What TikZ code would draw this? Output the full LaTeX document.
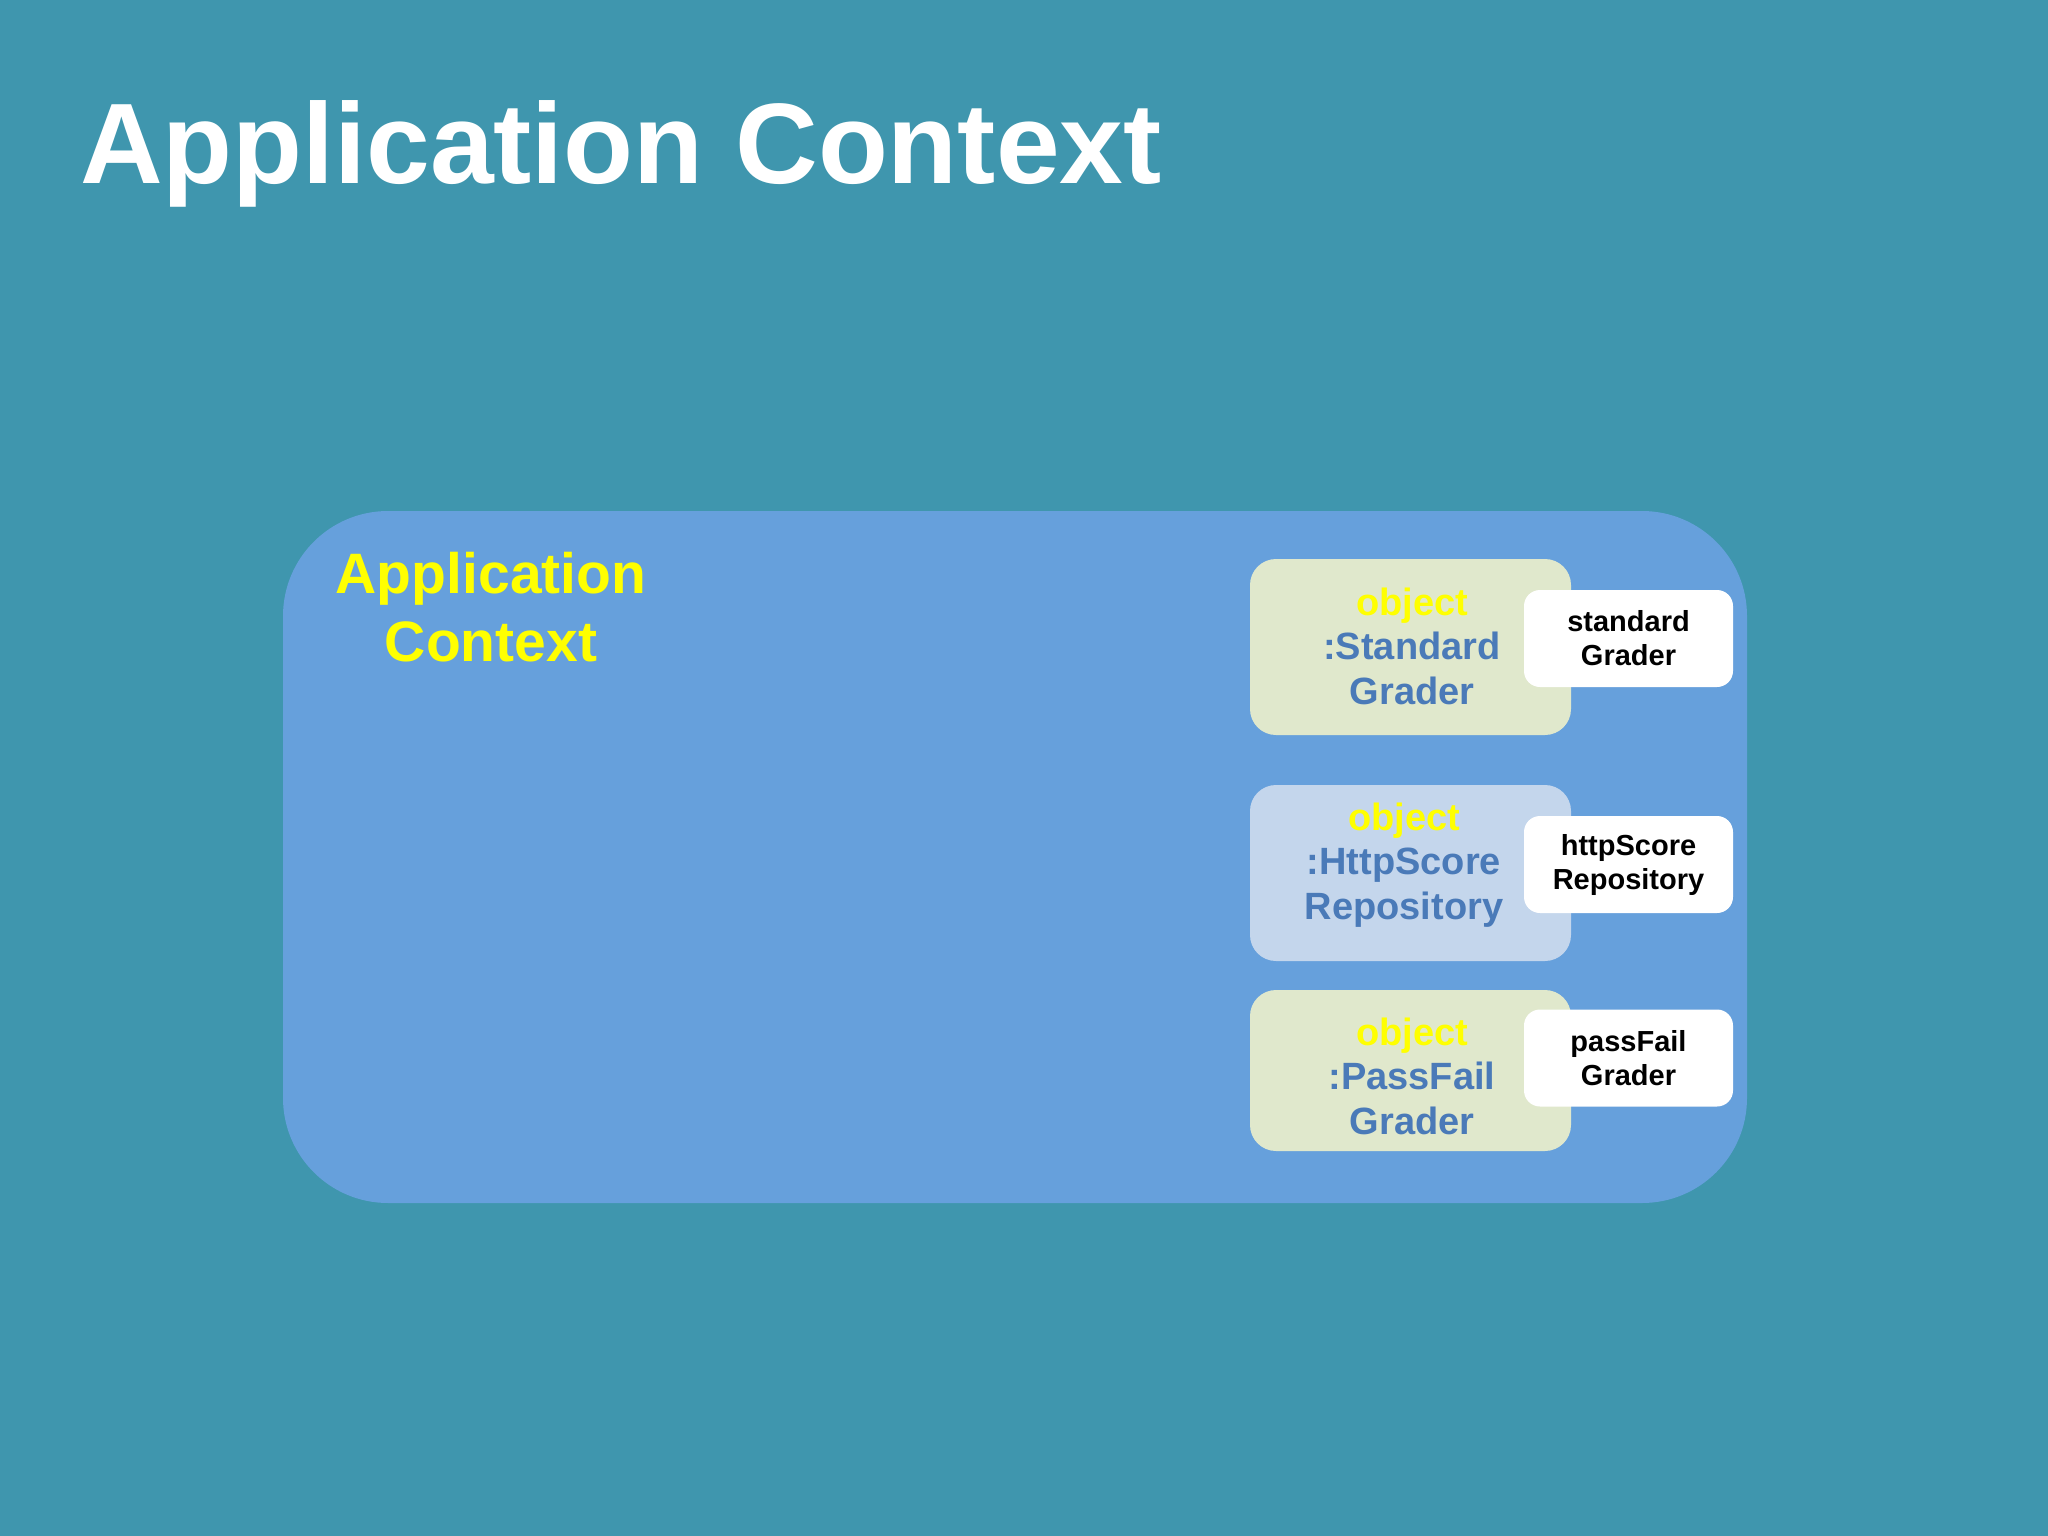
\documentclass[tikz,border=0pt]{standalone}
\usepackage{fontspec}
\setmainfont{Liberation Sans}
\definecolor{bgteal}{RGB}{63,150,174}
\definecolor{ctxblue}{RGB}{102,160,220}
\definecolor{objgreen}{RGB}{224,232,204}
\definecolor{objblue}{RGB}{196,214,236}
\definecolor{txtblue}{RGB}{74,122,184}
\definecolor{ylw}{RGB}{255,255,0}
\tikzset{
  objbox/.style={rounded corners=26pt, minimum width=321pt, inner sep=0pt, draw=none},
  objtext/.style={align=center, inner sep=0pt, text=txtblue, font=\bfseries\fontsize{38}{44.5}\selectfont},
  namebox/.style={rounded corners=16pt, fill=white, minimum width=209pt, minimum height=97pt, inner sep=0pt, align=center, font=\bfseries\fontsize{29}{34}\selectfont, text=black},
}
\begin{document}
\begin{tikzpicture}[x=1pt,y=-1pt]
\fill[bgteal] (0,0) rectangle (2048,1536);
\useasboundingbox (0,0) rectangle (2048,1536);
\node[anchor=base west, inner sep=0pt, text=white, font=\bfseries\fontsize{114.5}{130}\selectfont] (title) at (80,183) {Application Context};
\node[fill=ctxblue, rounded corners=105pt, minimum width=1464pt, minimum height=692pt, inner sep=0pt] (ctx) at (1015,857) {};
\node[align=center, inner sep=0pt, text=ylw, font=\bfseries\fontsize{57}{68}\selectfont] (ctxlabel) at (491,607) {Application\\Context};
% object boxes
\node[objbox, fill=objgreen, minimum height=176pt] (o1) at (1410.5,647) {};
\node[objtext] (t1) at (1412,646) {\textcolor{ylw}{object}\\:Standard\\Grader};
\node[namebox] (n1) at (1628.5,638.5) {standard\\Grader};
\node[objbox, fill=objblue, minimum height=176pt] (o2) at (1410.5,873) {};
\node[objtext] (t2) at (1404,865) {\textcolor{ylw}{object}\\:HttpScore\\Repository};
\node[namebox] (n2) at (1628.5,864.5) {httpScore\\Repository};
\node[objbox, fill=objgreen, minimum height=161pt] (o3) at (1410.5,1070.5) {};
\node[objtext] (t3) at (1412,1076) {\textcolor{ylw}{object}\\:PassFail\\Grader};
\node[namebox] (n3) at (1628.5,1058) {passFail\\Grader};
\end{tikzpicture}
\end{document}
